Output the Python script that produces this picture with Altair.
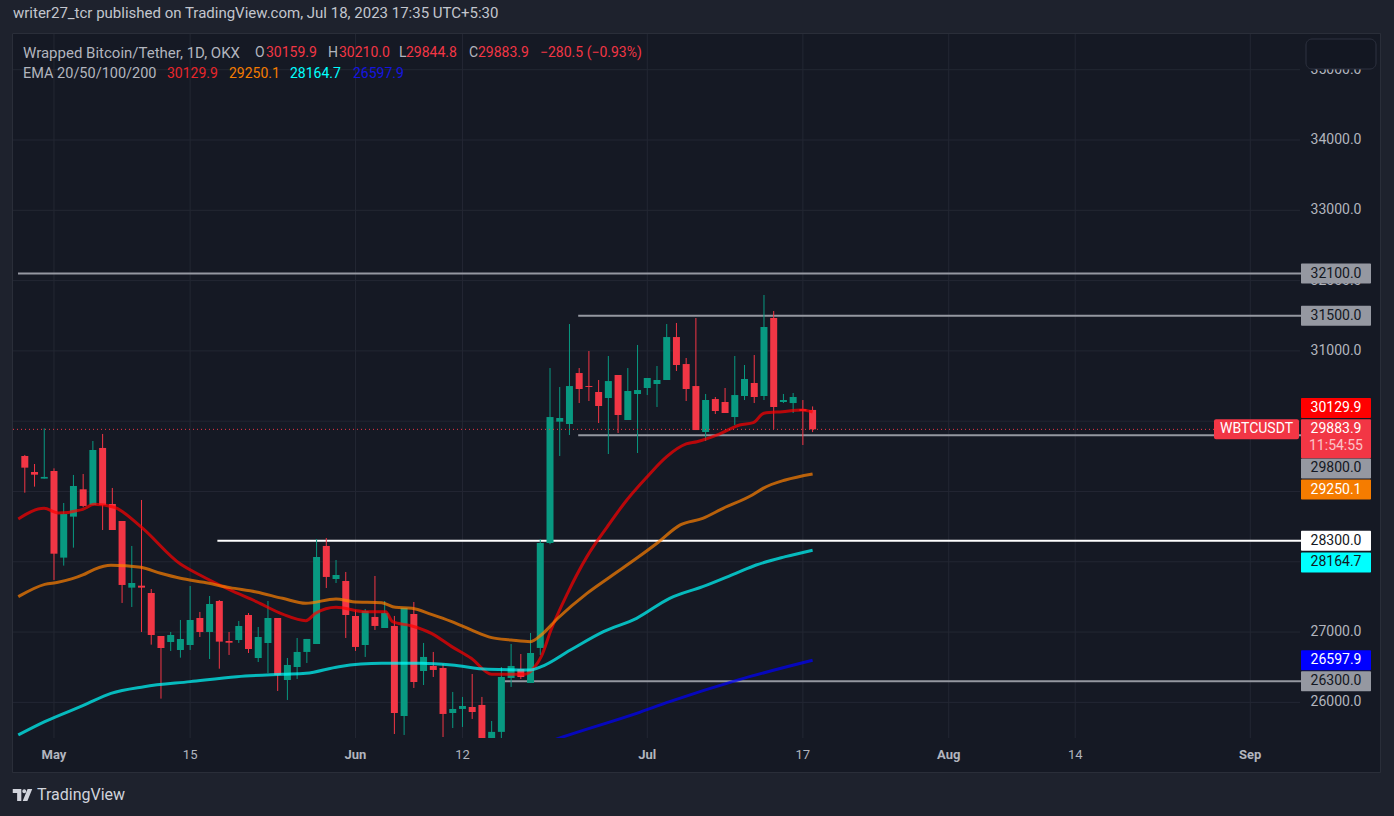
import altair as alt
import pandas as pd

# ---------------- candle data (WBTC/USDT, 1D, OKX) ----------------
dates = pd.date_range("2023-04-28", "2023-07-18", freq="D")
opens = [29505, 29277, 29183, 29291, 28059, 28642, 29031, 28808, 29619, 28822,
         28580, 27632, 27660, 27556, 26944, 26859, 26745, 26816, 27200, 27001,
         27442, 26873, 26887, 27243, 26631, 26845, 27200, 26318, 26503, 26717,
         26830, 28225, 27755, 27727, 27229, 26816, 27215, 27058, 27087, 25806,
         27257, 26446, 26518, 26489, 25849, 25906, 25934, 25963, 25120, 25580,
         26347, 26475, 26276, 26774, 28267, 29993, 29960, 30685, 30500, 30415,
         30330, 30657, 30017, 30387, 30472, 30529, 30586, 31197, 30813, 30500,
         29846, 30315, 30273, 30059, 30358, 30543, 30358, 31468, 30273, 30258,
         30173, 30159.9]
highs = [29520, 29391, 29898, 29329, 28836, 29235, 29249, 29718, 29818, 29050,
         28580, 28225, 28879, 27613, 26944, 27001, 27172, 27655, 27286, 27513,
         27456, 27001, 27158, 27271, 27072, 27442, 27200, 26631, 26916, 26902,
         28324, 28338, 28025, 27855, 27314, 27328, 27798, 27442, 27229, 27343,
         27428, 26845, 26717, 26546, 26148, 26077, 26404, 26077, 25735, 26503,
         26830, 26688, 26987, 28324, 30756, 30486, 31382, 30756, 30998, 30586,
         30927, 30657, 30756, 31084, 30614, 30785, 31382, 31397, 30899, 31468,
         30387, 30344, 30472, 30927, 30799, 30941, 31795, 31567, 30387, 30401,
         30301, 30210.0]
lows = [28983, 29069, 29183, 27741, 27945, 28201, 28775, 28808, 28452, 28452,
        27414, 27357, 27001, 26821, 26053, 26731, 26636, 26745, 26930, 26617,
        26479, 26674, 26845, 26702, 26574, 26418, 26162, 26034, 26333, 26560,
        26830, 27627, 27698, 26916, 26731, 26646, 27030, 27058, 25550, 25536,
        26205, 26247, 26361, 25507, 25635, 25650, 25764, 24820, 24770, 25160,
        26219, 26333, 26276, 26674, 28250, 29505, 29803, 30258, 30287, 29974,
        29533, 29832, 30017, 29547, 30372, 30202, 30586, 30714, 30287, 29874,
        29718, 30102, 30116, 29946, 30301, 30258, 30301, 29889, 30258, 30116,
        29661, 29844.8]
closes = [29339, 29239, 29207, 28115, 28680, 29078, 28794, 29590, 28808, 28452,
          27670, 27698, 27632, 26958, 26773, 26958, 26901, 27172, 27001, 27399,
          26864, 26849, 27086, 26759, 26930, 27200, 26389, 26532, 26717, 26902,
          28068, 27784, 27812, 27243, 26788, 27300, 27087, 27271, 25849, 27343,
          26290, 26646, 26461, 25835, 25906, 25948, 25863, 25120, 25580, 26361,
          26518, 26361, 26702, 28267, 30059, 30045, 30500, 30458, 30486, 30216,
          30571, 30088, 30429, 30443, 30614, 30586, 31197, 30799, 30458, 29874,
          30301, 30145, 30116, 30372, 30600, 30344, 31340, 30202, 30301, 30344,
          30145, 29883.9]

# ---------------- EMA readings (day index: 0 = May 1) ----------------
ema20_day = [-3.67, -1.02, 0.41, 2.96, 4.15, 6.19, 8.92, 13.0, 15.0, 18.1,
             20.8, 23.5, 25.9, 26.9, 29.0, 32.0, 34.1, 34.8, 36.8, 38.8,
             40.9, 42.9, 45.0, 48.4, 49.4, 50.1, 51.1, 52.8, 54.8, 56.9,
             58.9, 61.0, 63.0, 65.0, 66.1, 68.4, 70.5, 71.9, 73.0, 74.9,
             76.9, 78.0]
ema20_val = [28609, 28760, 28694, 28746, 28817, 28775, 28500, 27968, 27812, 27599,
             27433, 27255, 27162, 27267, 27352, 27290, 27290, 27148, 27087, 26982,
             26793, 26627, 26399, 26399, 26499, 26650, 27030, 27551, 28073, 28500,
             28879, 29211, 29496, 29676, 29708, 29817, 29946, 29979, 30112, 30135,
             30159, 30130]
ema50_day = [-3.67, -0.95, 0.41, 2.96, 4.15, 5.86, 8.92, 10.96, 13.0, 15.4,
             18.1, 20.8, 23.5, 25.9, 29.0, 30.7, 33.7, 35.1, 36.8, 38.8,
             40.9, 42.9, 45.0, 47.0, 49.0, 50.1, 51.8, 54.8, 57.2, 59.9,
             62.0, 64.4, 66.7, 68.8, 71.8, 72.9, 75.2, 78.0]
ema50_val = [27504, 27679, 27708, 27812, 27893, 27950, 27921, 27836, 27765, 27708,
             27632, 27570, 27480, 27409, 27471, 27433, 27418, 27352, 27338, 27252,
             27148, 27030, 26921, 26888, 26864, 26959, 27196, 27551, 27788, 28049,
             28263, 28524, 28618, 28761, 28950, 29045, 29164, 29250]
ema100_day = [-3.67, -0.95, 3.13, 5.86, 9.26, 14.0, 18.8, 23.5, 25.9, 29.3,
              33.7, 37.8, 40.9, 44.6, 49.0, 50.1, 53.1, 56.5, 59.9, 63.3,
              66.7, 70.1, 72.2, 75.2, 78.0]
ema100_val = [25536, 25725, 25963, 26128, 26223, 26295, 26366, 26399, 26413, 26508,
              26555, 26555, 26532, 26470, 26461, 26508, 26745, 27006, 27196, 27480,
              27646, 27836, 27954, 28073, 28165]
ema200_day = [51.0, 52.4, 59.9, 63.3, 70.1, 78.0]
ema200_val = [25445, 25512, 25844, 26010, 26309, 26598]

ema_names = ["EMA20", "EMA50", "EMA100", "EMA200"]
ema_colors = ["#ff0000", "#ff8000", "#00ffff", "#0000ff"]
ema_last = [30129.9, 29250.1, 28164.7, 26597.9]
ema_text_colors = ["#e8262b", "#f57c00", "#00ffff", "#1515e0"]

# ---------------- horizontal levels ----------------
level_price = [32100, 31500, 29800, 28300, 26300]
level_start = [-3.7, 53.9, 53.9, 16.8, 46.3]
level_color = ["#9598a1", "#9598a1", "#9598a1", "#ffffff", "#9598a1"]

# ---------------- price-scale tags ----------------
tag_val = [32100.0, 31500.0, 30129.9, 29800.0, 29250.1, 28300.0, 28164.7, 26597.9, 26300.0]
tag_pos = [32100, 31500, 30188, 29327, 29028, 28300, 27990, 26598, 26300]
tag_bg = ["#9598a1", "#9598a1", "#ff0000", "#9598a1", "#f57c00", "#ffffff", "#00ffff", "#0000ff", "#9598a1"]
tag_fg = ["#131722", "#131722", "#ffffff", "#131722", "#ffffff", "#131722", "#131722", "#ffffff", "#131722"]

last_price = 29883.9
countdown = "11:54:55"
change_abs = -280.5
change_pct = -0.93

# axes
tick_days = [0, 14, 31, 42, 61, 77, 92, 105, 123]
tick_text = ["May", "15", "Jun", "12", "Jul", "17", "Aug", "14", "Sep"]
tick_is_month = [True, False, True, False, True, False, True, False, True]
price_grid = [26000, 27000, 28000, 29000, 30000, 31000, 32000, 33000, 34000, 35000]
# labels that the price scale leaves visible (others are hidden behind tags)
price_labels_shown = [26000, 27000, 31000, 32000, 33000, 34000, 35000]

# ---------------- frames ----------------
UP, DOWN = "#089981", "#f23645"
base_day = pd.Timestamp("2023-05-01")
candles = pd.DataFrame({
    "day": [(d - base_day).days for d in dates],
    "open": opens, "high": highs, "low": lows, "close": closes,
})
candles["col"] = [UP if c >= o else DOWN for o, c in zip(opens, closes)]

ema_rows = []
for name, col, dd, vv in [("EMA20", ema_colors[0], ema20_day, ema20_val),
                          ("EMA50", ema_colors[1], ema50_day, ema50_val),
                          ("EMA100", ema_colors[2], ema100_day, ema100_val),
                          ("EMA200", ema_colors[3], ema200_day, ema200_val)]:
    for d, v in zip(dd, vv):
        ema_rows.append({"series": name, "col": col, "day": d, "value": v})
ema_df = pd.DataFrame(ema_rows)

levels = pd.DataFrame({"price": level_price, "start": level_start, "color": level_color})
tags = pd.DataFrame({"val": tag_val, "pos": tag_pos, "bg": tag_bg, "fg": tag_fg})
lastdf = pd.DataFrame({"price": [last_price]})
pgrid_df = pd.DataFrame({"price": price_grid})
plabel_df = pd.DataFrame({"price": price_labels_shown})
ttick_df = pd.DataFrame({"day": tick_days, "label": tick_text, "month": tick_is_month})
one = pd.DataFrame({"a": [0]})

FONT = "Roboto"
W, H = 1287, 704
OUTER = "#1e222d"
INNER = "#151924"
GRID = "#232733"
AXTXT = "#b2b5be"

xs = alt.Scale(domain=[-3.7, 127.6], nice=False, zero=False)
ys = alt.Scale(domain=[25493, 35508], nice=False, zero=False)
X = lambda f: alt.X(f, scale=xs, axis=None)
Y = lambda f: alt.Y(f, scale=ys, axis=None)

# grid
hgrid = alt.Chart(pgrid_df).mark_rule(strokeWidth=1, color=GRID).encode(
    x=alt.value(0), x2=alt.value(W), y=Y("price:Q"))
vgrid = alt.Chart(ttick_df).mark_rule(strokeWidth=1, color=GRID).encode(
    x=X("day:Q"), y=alt.value(0), y2=alt.value(H))

# candles
wicks = alt.Chart(candles).mark_rule(strokeWidth=1, clip=True).encode(
    x=X("day:Q"), y=Y("low:Q"), y2="high:Q", color=alt.Color("col:N", scale=None))
bodies = alt.Chart(candles).mark_bar(size=7, clip=True).encode(
    x=X("day:Q"), y=Y("open:Q"), y2="close:Q", color=alt.Color("col:N", scale=None))

level_lines = alt.Chart(levels).mark_rule(strokeWidth=2).encode(
    x=X("start:Q"), x2=alt.value(1288), y=Y("price:Q"),
    color=alt.Color("color:N", scale=None))

ema_lines = alt.Chart(ema_df).mark_line(strokeWidth=3, opacity=0.7, interpolate="monotone", clip=True).encode(
    x=X("day:Q"), y=Y("value:Q"), color=alt.Color("col:N", scale=None), detail="series:N")

last_line = alt.Chart(lastdf).mark_rule(strokeWidth=1, strokeDash=[1, 3], color=DOWN).encode(
    x=alt.value(0), x2=alt.value(1201), y=Y("price:Q"))


def T(text, x, y, color, size=14, align="left", weight="normal", opacity=1.0, font=FONT):
    return alt.Chart(one).mark_text(text=text, align=align, baseline="middle", fontSize=size,
                                    font=font, fontWeight=weight, color=color,
                                    opacity=opacity).encode(x=alt.value(x), y=alt.value(y))


def R(x, x2, y, y2, fill, stroke=None, radius=0, sw=1, fo=1.0):
    kw = dict(fill=fill, fillOpacity=fo, cornerRadius=radius)
    if stroke is not None:
        kw.update(stroke=stroke, strokeWidth=sw)
    return alt.Chart(one).mark_rect(**kw).encode(
        x=alt.value(x), x2=alt.value(x2), y=alt.value(y), y2=alt.value(y2))


# axis labels
price_labels = alt.Chart(plabel_df).mark_text(align="center", baseline="middle", fontSize=14,
                                              font=FONT, color=AXTXT).encode(
    x=alt.value(1323), y=Y("price:Q"), text=alt.Text("price:Q", format=".1f"))
time_month = alt.Chart(ttick_df).transform_filter("datum.month").mark_text(
    align="center", baseline="middle", fontSize=13, font=FONT, fontWeight="bold", color=AXTXT).encode(
    x=X("day:Q"), y=alt.value(721), text="label:N")
time_day = alt.Chart(ttick_df).transform_filter("!datum.month").mark_text(
    align="center", baseline="middle", fontSize=13, font=FONT, color=AXTXT).encode(
    x=X("day:Q"), y=alt.value(721), text="label:N")

# price tags
tag_rects = alt.Chart(tags).mark_rect(yOffset=-10, y2Offset=10, cornerRadius=1).encode(
    x=alt.value(1288), x2=alt.value(1358), y=Y("pos:Q"), y2="pos:Q",
    color=alt.Color("bg:N", scale=None))
tag_texts = alt.Chart(tags).mark_text(align="center", baseline="middle", fontSize=14, font=FONT).encode(
    x=alt.value(1323), y=Y("pos:Q"), text=alt.Text("val:Q", format=".1f"),
    color=alt.Color("fg:N", scale=None))
last_rect = alt.Chart(lastdf).mark_rect(yOffset=-10, y2Offset=29, color=DOWN, cornerRadius=1).encode(
    x=alt.value(1288), x2=alt.value(1358), y=Y("price:Q"), y2="price:Q")
last_text = alt.Chart(lastdf).mark_text(align="center", baseline="middle", fontSize=14, font=FONT,
                                        color="#ffffff").encode(
    x=alt.value(1323), y=Y("price:Q"), text=alt.Text("price:Q", format=".1f"))
count_text = alt.Chart(lastdf).mark_text(align="center", baseline="middle", fontSize=14, font=FONT,
                                         color="#ffffff", opacity=0.7, dy=17).encode(
    x=alt.value(1323), y=Y("price:Q"), text=alt.value(countdown))
sym_rect = alt.Chart(lastdf).mark_rect(yOffset=-10, y2Offset=10, color=DOWN, cornerRadius=2).encode(
    x=alt.value(1201), x2=alt.value(1286), y=Y("price:Q"), y2="price:Q")
sym_text = alt.Chart(lastdf).mark_text(align="center", baseline="middle", fontSize=14, font=FONT,
                                       color="#ffffff").encode(
    x=alt.value(1243.5), y=Y("price:Q"), text=alt.value("WBTCUSDT"))

# outer frame strips (chart origin at page (13, 34))
frame = [
    R(-13, 1381, -34, -1, OUTER),
    R(-13, -1, -34, 782, OUTER),
    R(1367, 1381, -34, 782, OUTER),
    R(-13, 1381, 738, 782, OUTER),
    R(-0.5, 1367.5, -0.5, 738.5, INNER, stroke="#2a2e39", fo=0.0),
]
button = R(1293, 1363, 5, 35, "#131722", stroke="#2e3240", radius=6)

RED = "#f23645"
GRY = "#b2b5be"
fmt = lambda v: "%.1f" % v
texts = [
    T("writer27_tcr published on TradingView.com, Jul 18, 2023 17:35 UTC+5:30", 0, -21, "#c3c6ce", size=15),
    T("Wrapped Bitcoin/Tether, 1D, OKX", 10, 19, GRY, size=15),
    T("O", 242, 19, GRY), T(fmt(opens[-1]), 253, 19, RED),
    T("H", 315, 19, GRY), T(fmt(highs[-1]), 326, 19, RED),
    T("L", 386, 19, GRY), T(fmt(lows[-1]), 393, 19, RED),
    T("C", 456, 19, GRY), T(fmt(closes[-1]), 465, 19, RED),
    T("\u2212%.1f (\u2212%.2f%%)" % (abs(change_abs), abs(change_pct)), 527, 19, RED),
    T("EMA 20/50/100/200", 10, 40, GRY, size=14.5),
]
for xpos, v, c in zip([154, 216, 277, 340], ema_last, ema_text_colors):
    texts.append(T(fmt(v), xpos, 40, c))

logo_path = ("M-1,-0.62H-0.12V0.62H-0.55V-0.2H-1Z "
             "M-0.02,-0.38A0.2,0.2,0,1,0,0.38,-0.38A0.2,0.2,0,1,0,-0.02,-0.38Z "
             "M0.02,0.62H0.5L1,-0.62H0.52Z")
logo = alt.Chart(one).mark_point(shape=logo_path, size=380, filled=True, opacity=1,
                                 color="#d1d4dc").encode(x=alt.value(9.5), y=alt.value(761))
footer = T("TradingView", 24, 761, "#d1d4dc", size=16)

chart = alt.layer(
    hgrid, vgrid, level_lines, wicks, bodies, ema_lines, last_line,
    *frame, price_labels, time_month, time_day, button,
    tag_rects, tag_texts, last_rect, last_text, count_text, sym_rect, sym_text,
    *texts, logo, footer,
).properties(
    width=W, height=H,
    padding={"left": 13, "top": 34, "right": 94, "bottom": 78},
    autosize=alt.AutoSizeParams(type="none"),
    background=INNER,
).configure_view(stroke=None, fill=INNER)

chart.save("out.html", embed_options={"renderer": "svg", "actions": False})
